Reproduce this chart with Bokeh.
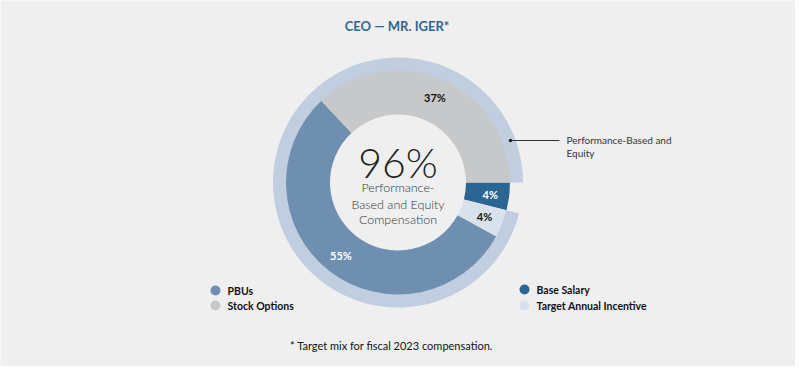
import numpy as np
from bokeh.plotting import figure
from bokeh.models import Range1d, ColumnDataSource
from bokeh.core.properties import value
from bokeh.embed import file_html
from bokeh.resources import INLINE

# ---- data ----
categories = ["Base Salary", "Target Annual Incentive", "PBUs", "Stock Options"]
shares = [4, 4, 55, 37]
colors = ["#2b6593", "#d9e1ed", "#6f8fb1", "#c7c8c9"]
label_colors = ["#ffffff", "#111111", "#ffffff", "#111111"]
perf_based = ["Target Annual Incentive", "PBUs", "Stock Options"]
total_perf = 96
title_text = "CEO \u2014 MR. IGER*"
footnote = "* Target mix for fiscal 2023 compensation."
center_lines = ["Performance-", "Based and Equity", "Compensation"]
annot_lines = ["Performance-Based and", "Equity"]

W, H = 795, 366
BG = "#efefef"
FONT = "Lato"

p = figure(width=W, height=H, output_backend="svg", toolbar_location=None,
           x_range=Range1d(0, W), y_range=Range1d(0, H), min_border=0,
           background_fill_color=BG, border_fill_color=BG, outline_line_color=None)
p.axis.visible = False
p.grid.visible = False

cx, cy = 397.5, 184
r_hole, r_seg, r_ring = 68, 112, 125

fr = np.array(shares, dtype=float) / sum(shares)
cum = np.concatenate([[0], np.cumsum(fr)])
starts = -cum[:-1] * 2 * np.pi
ends = -cum[1:] * 2 * np.pi
mids = (starts + ends) / 2

# outer ring spanning performance-based pieces
idx = [categories.index(c) for c in perf_based]
ring_start = max(starts[i] for i in idx)
ring_end = min(ends[i] for i in idx)
p.annular_wedge(x=[cx], y=[cy], inner_radius=r_seg - 0.5, outer_radius=r_ring,
                start_angle=[ring_start], end_angle=[ring_end], direction="clock",
                fill_color="#c0cee0", line_color=None)

src = ColumnDataSource(dict(cat=categories, start=starts, end=ends, color=colors))
p.annular_wedge(x=cx, y=cy, inner_radius=r_hole, outer_radius=r_seg,
                start_angle="start", end_angle="end", direction="clock",
                fill_color="color", line_color=None, source=src)

# percentage labels
r_lab = 93
p.text(x=list(cx + r_lab * np.cos(mids)), y=list(cy + r_lab * np.sin(mids)),
       text=[f"{s}%" for s in shares], text_color=label_colors,
       text_font=value(FONT), text_font_style="bold", text_font_size="11px",
       text_align="center", text_baseline="middle")

# center text
p.text(x=[cx], y=[cy + 20], text=[f"{total_perf}%"], text_font=value("Lato Light, Lato"),
       text_font_size="41px", text_color="#222222", text_align="center", text_baseline="middle")
p.text(x=[cx] * 3, y=[cy - 5, cy - 22, cy - 37], text=center_lines,
       text_font=value("Lato Light, Lato"), text_font_size="12.5px", text_color="#333333",
       text_align="center", text_baseline="middle")

# title & footnote
p.text(x=[396.5], y=[341], text=[title_text], text_font=value(FONT), text_font_style="bold",
       text_font_size="13px", text_color="#2e6699", text_align="center", text_baseline="middle")
p.text(x=[391], y=[21], text=[footnote], text_font=value(FONT), text_font_size="11px",
       text_color="#111111", text_align="center", text_baseline="middle")

# annotation
p.segment(x0=[510], y0=[226], x1=[559], y1=[226], line_color="#333333", line_width=1)
p.scatter(x=[510], y=[226], size=3.5, fill_color="#222222", line_color=None)
p.text(x=[566, 566], y=[227, 214], text=annot_lines, text_font=value(FONT),
       text_font_size="10px", text_color="#333333", text_align="left", text_baseline="middle")

# legends
leg_order = ["PBUs", "Stock Options", "Base Salary", "Target Annual Incentive"]
leg_x = [215, 215, 524, 524]
leg_y = [76, 61, 77, 61]
leg_cols = [colors[categories.index(c)] for c in leg_order]
p.scatter(x=leg_x, y=leg_y, size=10, fill_color=leg_cols, line_color=None)
p.text(x=[x + 12 for x in leg_x], y=leg_y, text=leg_order, text_font=value(FONT),
       text_font_style="bold", text_font_size="10.5px", text_color="#111111",
       text_align="left", text_baseline="middle")

open("out.html", "w").write(file_html(p, INLINE))
